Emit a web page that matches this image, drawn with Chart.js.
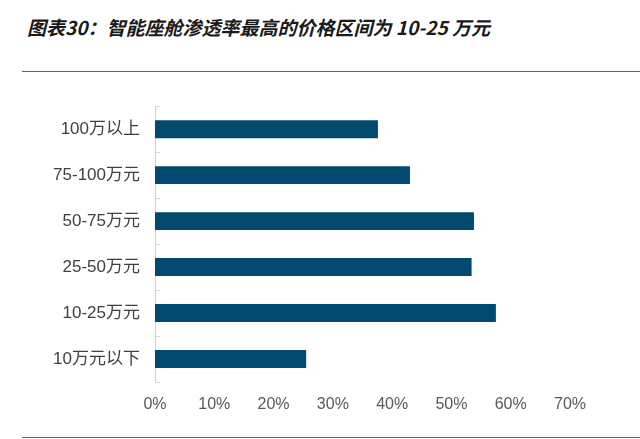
<!DOCTYPE html>
<html lang="zh-CN">
<head>
    <meta charset="UTF-8">
    <title>智能座舱渗透率</title>
    <script src="https://cdn.jsdelivr.net/npm/chart.js"></script>
    <style>
        body { margin: 0; width: 640px; height: 439px; background: #fff; position: relative; overflow: hidden; }
        .title { position: absolute; left: 27px; top: 13px; font-family: "Noto Sans CJK SC", sans-serif; font-weight: bold; font-style: italic; font-size: 19px; color: #1a1a1a; white-space: nowrap; }
        .rule { position: absolute; left: 22px; right: 0; height: 1px; background: #3b6a93; }
        .chart-box { position: absolute; left: 0; top: 76px; width: 640px; height: 344px; }
    </style>
</head>
<body>
    <div class="title">图表30：智能座舱渗透率最高的价格区间为 10-25 万元</div>
    <div class="rule" style="top:71px"></div>
    <div class="chart-box"><canvas id="penChart"></canvas></div>
    <div class="rule" style="top:437px"></div>

    <script>
        // price ranges and penetration (%)
        const categories = ['100万以上', '75-100万元', '50-75万元', '25-50万元', '10-25万元', '10万元以下'];
        const penetration = [37.6, 43.0, 53.8, 53.4, 57.5, 25.5];
        const xTicks = [0, 10, 20, 30, 40, 50, 60, 70];

        const fontFamily = '"Liberation Sans", "Noto Sans CJK SC", sans-serif';

        new Chart(document.getElementById('penChart'), {
            type: 'bar',
            data: {
                labels: categories,
                datasets: [{
                    data: penetration,
                    backgroundColor: '#01496e',
                    borderWidth: 0,
                    categoryPercentage: 1,
                    barPercentage: 0.39
                }]
            },
            options: {
                indexAxis: 'y',
                responsive: true,
                maintainAspectRatio: false,
                animation: false,
                layout: { padding: { top: 10, right: 70, left: 0, bottom: 0 } },
                plugins: { legend: { display: false }, tooltip: { enabled: false } },
                scales: {
                    x: {
                        min: xTicks[0],
                        max: xTicks[xTicks.length - 1],
                        afterBuildTicks: s => { s.ticks = xTicks.map(v => ({ value: v })); },
                        afterFit: s => { s.height = 38; },
                        grid: { display: false, drawTicks: false },
                        border: { display: false },
                        ticks: {
                            padding: 13,
                            color: '#595959',
                            font: { family: fontFamily, size: 16 },
                            callback: v => v + '%'
                        }
                    },
                    y: {
                        afterFit: s => { s.width = 155; },
                        grid: { drawOnChartArea: false, drawTicks: true, tickLength: -5, color: '#d9d9d9' },
                        border: { display: true, color: '#d0d0d0', width: 1 },
                        ticks: { padding: 20, color: '#404040', font: { family: fontFamily, size: 17 } }
                    }
                }
            }
        });
    </script>
</body>
</html>
